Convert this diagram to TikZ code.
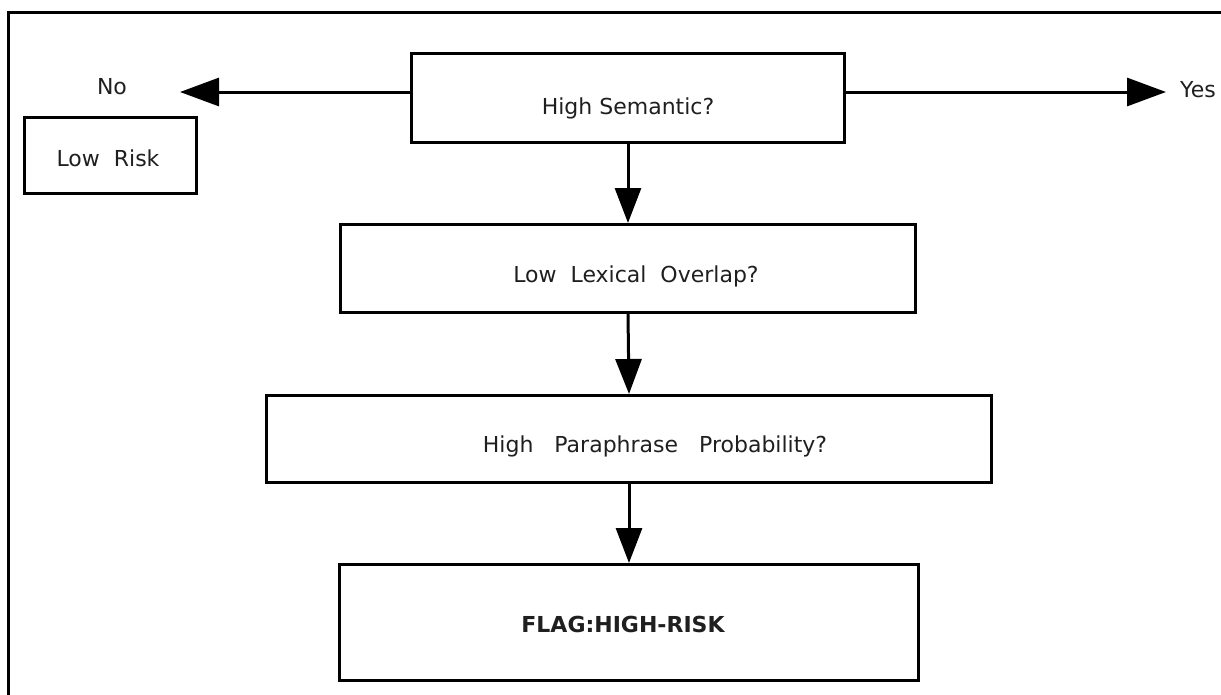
\documentclass[tikz,border=0pt]{standalone}
\usepackage{fontspec}
\setmainfont{DejaVu Sans}
\usetikzlibrary{arrows.meta,calc}
\begin{document}
\begin{tikzpicture}[x=1pt,y=-1pt,
  box/.style={draw=black,line width=3pt,inner sep=0pt},
  txt/.style={font=\fontsize{22}{26}\selectfont,text=black!88,inner sep=0pt},
  frameline/.style={draw=black,line width=3pt},
  harr/.style={draw=black,line width=3pt,-{Triangle[length=39pt,width=28pt]}},
  varr/.style={draw=black,line width=3pt,-{Triangle[length=35pt,width=26pt]}}]
\useasboundingbox (0,0) rectangle (1221,694);
\draw[frameline] (8,696) -- (8,12) -- (1223,12);
% boxes
\node[box,minimum width=433pt,minimum height=89pt] (hs) at (628,98) {};
\node[txt] (hst) at (628,108) {High Semantic?};
\node[box,minimum width=172pt,minimum height=76pt] (lr) at (110.5,155.5) {};
\node[txt] (lrt) at (108,158) {Low\ \ Risk};
\node[box,minimum width=575pt,minimum height=88pt] (ll) at (628,268.5) {};
\node[txt] (llt) at (636,276) {Low\ \ Lexical\ \ Overlap?};
\node[box,minimum width=725pt,minimum height=87pt] (hp) at (629,439) {};
\node[txt] (hpt) at (655,446) {High\ \ \ Paraphrase\ \ \ Probability?};
\node[box,minimum width=579pt,minimum height=116pt] (fl) at (629,622.5) {};
\node[txt,font=\bfseries\fontsize{22}{26}\selectfont] (flt) at (623,624) {FLAG:HIGH-RISK};
% labels
\node[txt] (no) at (112,87) {No};
\node[txt,anchor=west] (yes) at (1180,90) {Yes};
% connectors
\coordinate (noTip) at (180,92);
\coordinate (yesTip) at (1166,92);
\draw[harr] (hs.west |- noTip) -- (noTip);
\draw[harr] (hs.east |- yesTip) -- (yesTip);
\draw[varr] (hs.south) -- (ll.north);
\draw[varr] (ll.south) -- (hp.north);
\draw[varr] (hp.south) -- (fl.north);
\end{tikzpicture}
\end{document}
